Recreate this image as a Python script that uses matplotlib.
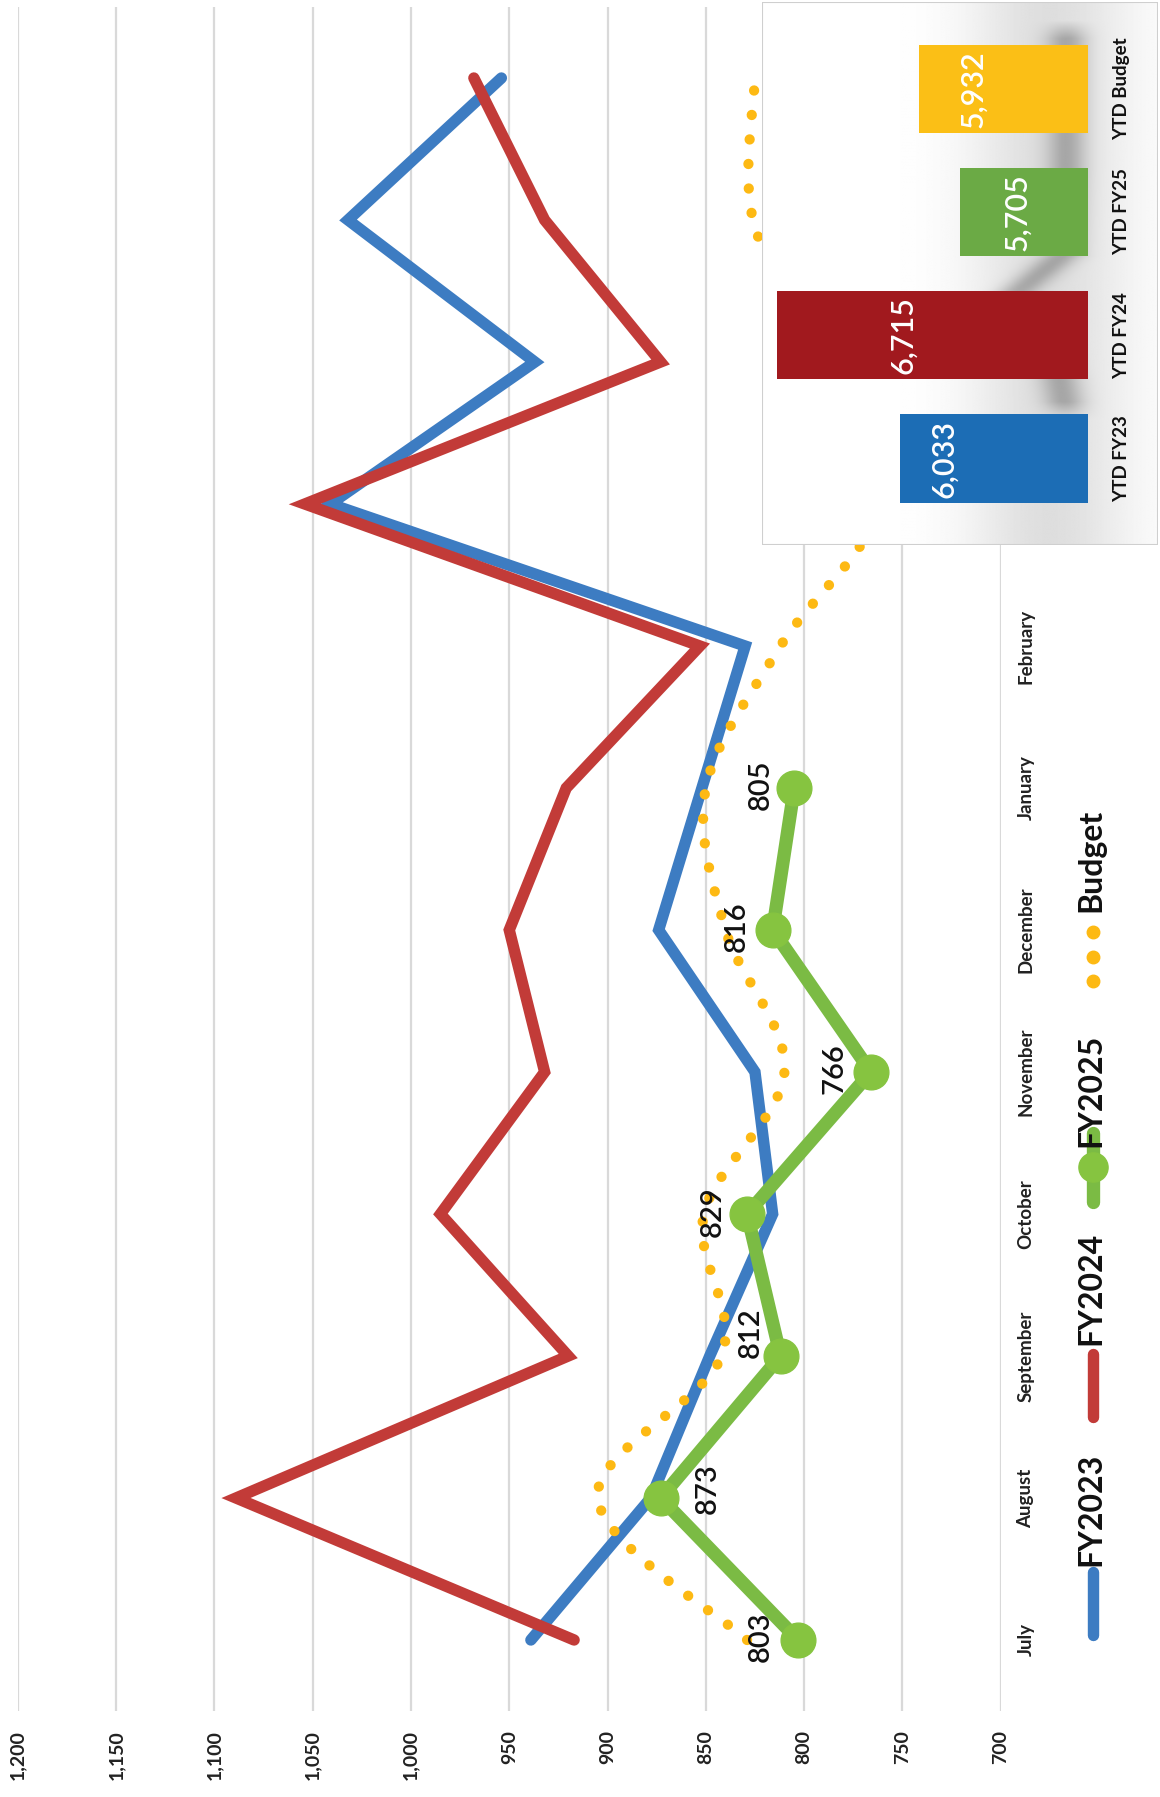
import numpy as np
import matplotlib
matplotlib.use("Agg")
import matplotlib.pyplot as plt
from matplotlib.lines import Line2D
from matplotlib.patches import Rectangle

plt.rcParams["font.family"] = ["Lato", "DejaVu Sans"]

# ---------------- data ----------------
months = ["July", "August", "September", "October", "November", "December",
          "January", "February", "March", "April", "May", "June"]
fy2023 = [939, 878, 848, 816, 825, 874, 852, 830, 1041, 937, 1032, 954]
fy2024 = [917, 1089, 920, 985, 932, 950, 921, 853, 1054, 873, 932, 968]
fy2025 = [803, 873, 812, 829, 766, 816, 805]
budget = [829, 905, 842, 851, 810, 840, 850, 812, 762, 790, 826, 825]

value_ticks = [700, 750, 800, 850, 900, 950, 1000, 1050, 1100, 1150, 1200]

ytd_labels = ["YTD FY23", "YTD FY24", "YTD FY25", "YTD Budget"]
ytd_values = [6033, 6715, 5705, 5932]

# ---------------- style ----------------
C_BLUE = "#3D7CC2"
C_RED = "#C23B38"
C_GREEN_LINE = "#7BBB44"
C_GREEN_MARK = "#86C440"
C_BUDGET = "#FDB913"
BAR_COLORS = ["#1C6DB5", "#A1191E", "#6BAA45", "#FBBF16"]

W, H = 1160, 1797
fig = plt.figure(figsize=(W / 100, H / 100), dpi=100)
fig.patch.set_facecolor("white")


def frect(x0, y0, x1, y1):
    """Figure-fraction rectangle from pixel box (top-left origin)."""
    return [x0 / W, 1 - y1 / H, (x1 - x0) / W, (y1 - y0) / H]


# ---------------- main line chart (rotated layout) ----------------
ax = fig.add_axes(frect(17.8, 7, 1000.7, 1711))
ax.set_xlim(1200, 700)
ax.set_ylim(-0.5, 11.5)
for s in ax.spines.values():
    s.set_visible(False)
ax.set_xticks(value_ticks)
ax.set_xticklabels([f"{v:,}" for v in value_ticks], rotation=90,
                   fontsize=14, fontweight="bold", color="#222222")
ax.grid(axis="x", color="#D9D9D9", lw=1.6)
ax.set_axisbelow(True)
ax.tick_params(axis="x", length=0, pad=13.5)

ax.yaxis.tick_right()
ax.set_yticks(range(len(months)))
ax.set_yticklabels(months, rotation=90, va="center", fontsize=13.5,
                   fontweight="bold", color="#222222")
ax.tick_params(axis="y", length=0, pad=12)
# month names that sit beneath the YTD panel stay hidden
for lbl in ax.get_yticklabels()[8:]:
    lbl.set_visible(False)

idx = np.arange(len(months))
ax.plot(fy2023, idx, color=C_BLUE, lw=8.2, solid_capstyle="round",
        solid_joinstyle="miter", zorder=3)
ax.plot(fy2024, idx, color=C_RED, lw=8.2, solid_capstyle="round",
        solid_joinstyle="miter", zorder=4)


def smooth_curve(values, n=40):
    """Catmull-Rom style smoothing through the points (value, index)."""
    v = np.asarray(values, float)
    t = np.arange(len(v), dtype=float)
    pts = np.column_stack([v, t])
    ext = np.vstack([pts[0], pts, pts[-1]])
    out = []
    for i in range(len(pts) - 1):
        p0, p1, p2, p3 = ext[i], ext[i + 1], ext[i + 2], ext[i + 3]
        c1 = p1 + (p2 - p0) / 6.0
        c2 = p2 - (p3 - p1) / 6.0
        s = np.linspace(0, 1, n, endpoint=(i == len(pts) - 2))[:, None]
        seg = ((1 - s) ** 3) * p1 + 3 * ((1 - s) ** 2) * s * c1 \
            + 3 * (1 - s) * s ** 2 * c2 + s ** 3 * p2
        out.append(seg)
    out = np.vstack(out)
    return out[:, 0], out[:, 1]


bx_vals, by_vals = smooth_curve(budget)
ax.plot(bx_vals, by_vals, color=C_BUDGET, lw=7.4, linestyle=(0, (0.01, 2.38)),
        dash_capstyle="round", zorder=5)

ax.plot(fy2025, idx[:len(fy2025)], color=C_GREEN_LINE, lw=9.6,
        solid_capstyle="round", zorder=6)
ax.plot(fy2025, idx[:len(fy2025)], linestyle="none", marker="o",
        markersize=25, color=C_GREEN_MARK, zorder=7)

# label placement (pixels) for the FY2025 values
label_shift = [(-37, 3), (47, 9), (-30, 23), (-34, 2), (-36, 3), (-36, 3), (-34, 3)]
for v, i, (dx, dy) in zip(fy2025, idx, label_shift):
    ax.annotate(f"{v}", (v, i), xytext=(dx, dy), textcoords="offset pixels",
                rotation=90, ha="center", va="center", fontsize=21,
                fontweight="semibold", color="#111111", zorder=8)

# ---------------- legend (vertical) ----------------
def fpt(x, y):
    return x / W, 1 - y / H


leg_x = 1093
for (y0, y1, col, lw) in [(1635, 1572, C_BLUE, 8.2), (1417, 1354, C_RED, 8.2),
                          (1202, 1133, C_GREEN_LINE, 9.6)]:
    fig.add_artist(Line2D([leg_x / W] * 2, [1 - y0 / H, 1 - y1 / H],
                          color=col, lw=lw, solid_capstyle="round"))
fig.add_artist(Line2D([leg_x / W], [1 - 1167 / H], marker="o", markersize=21,
                      color=C_GREEN_MARK, linestyle="none"))
fig.add_artist(Line2D([leg_x / W] * 3, [1 - 981 / H, 1 - 957 / H, 1 - 932 / H],
                      marker="o", markersize=9, color=C_BUDGET, linestyle="none"))
for name, ybot in [("FY2023", 1566), ("FY2024", 1345), ("FY2025", 1147),
                   ("Budget", 912)]:
    fig.text(*fpt(1091, ybot), name, rotation=90, ha="center", va="bottom",
             fontsize=23, fontweight="bold", color="#111111")

# ---------------- YTD inset ----------------
BOX = (762, 2, 1158, 545)
box = fig.add_axes(frect(*BOX))
box.set_zorder(5)
box.set_xlim(BOX[0], BOX[2])
box.set_ylim(BOX[3], BOX[1])
box.axis("off")
gx = np.linspace(BOX[0], BOX[2], 400)
gy = np.linspace(BOX[1], BOX[3], 540)
X, Y = np.meshgrid(gx, gy)
shade = 1 - 0.13 * np.exp(-((X - 1050) / 80.0) ** 2)
xc = np.interp(Y, [27, 133, 168, 256, 290, 379, 414],
               [1067, 1067, 1067, 1062, 1020, 1060, 1067])
ymask = np.clip((Y - 20) / 18, 0, 1) * np.clip((420 - Y) / 18, 0, 1)
shade -= 0.22 * np.exp(-((X - xc) / 20.0) ** 2) * ymask
box.imshow(shade, extent=(BOX[0], BOX[2], BOX[3], BOX[1]), cmap="gray",
           vmin=0, vmax=1, aspect="auto", interpolation="bilinear")
box.add_patch(Rectangle((0, 0), 1, 1, transform=box.transAxes, fill=False,
                        edgecolor="#CFCFCF", lw=1.5))

bx = fig.add_axes(frect(761.1, 27.1, 1088, 520.2))
bx.set_zorder(6)
bx.patch.set_alpha(0)
bx.set_xlim(6800, 5000)
bx.set_ylim(-0.5, 3.5)
for s in bx.spines.values():
    s.set_visible(False)
bx.set_xticks([])
pos = np.arange(len(ytd_values))
bx.barh(pos, [v - 5000 for v in ytd_values], left=5000, height=0.717,
        color=BAR_COLORS)
bx.yaxis.tick_right()
bx.set_yticks(pos)
bx.set_yticklabels(ytd_labels, rotation=90, va="center", fontsize=13.5,
                   fontweight="bold", color="#111111")
bx.tick_params(axis="y", length=0, pad=18)

bar_label_inset = [44, 127, 57, 54]
for p, v, dx in zip(pos, ytd_values, bar_label_inset):
    bx.annotate(f"{v:,}", (v, p), xytext=(dx, 0), textcoords="offset pixels",
                rotation=90, ha="center", va="center", fontsize=22,
                fontweight="semibold", color="white")

fig.savefig("out.png", dpi=100, facecolor="white")
